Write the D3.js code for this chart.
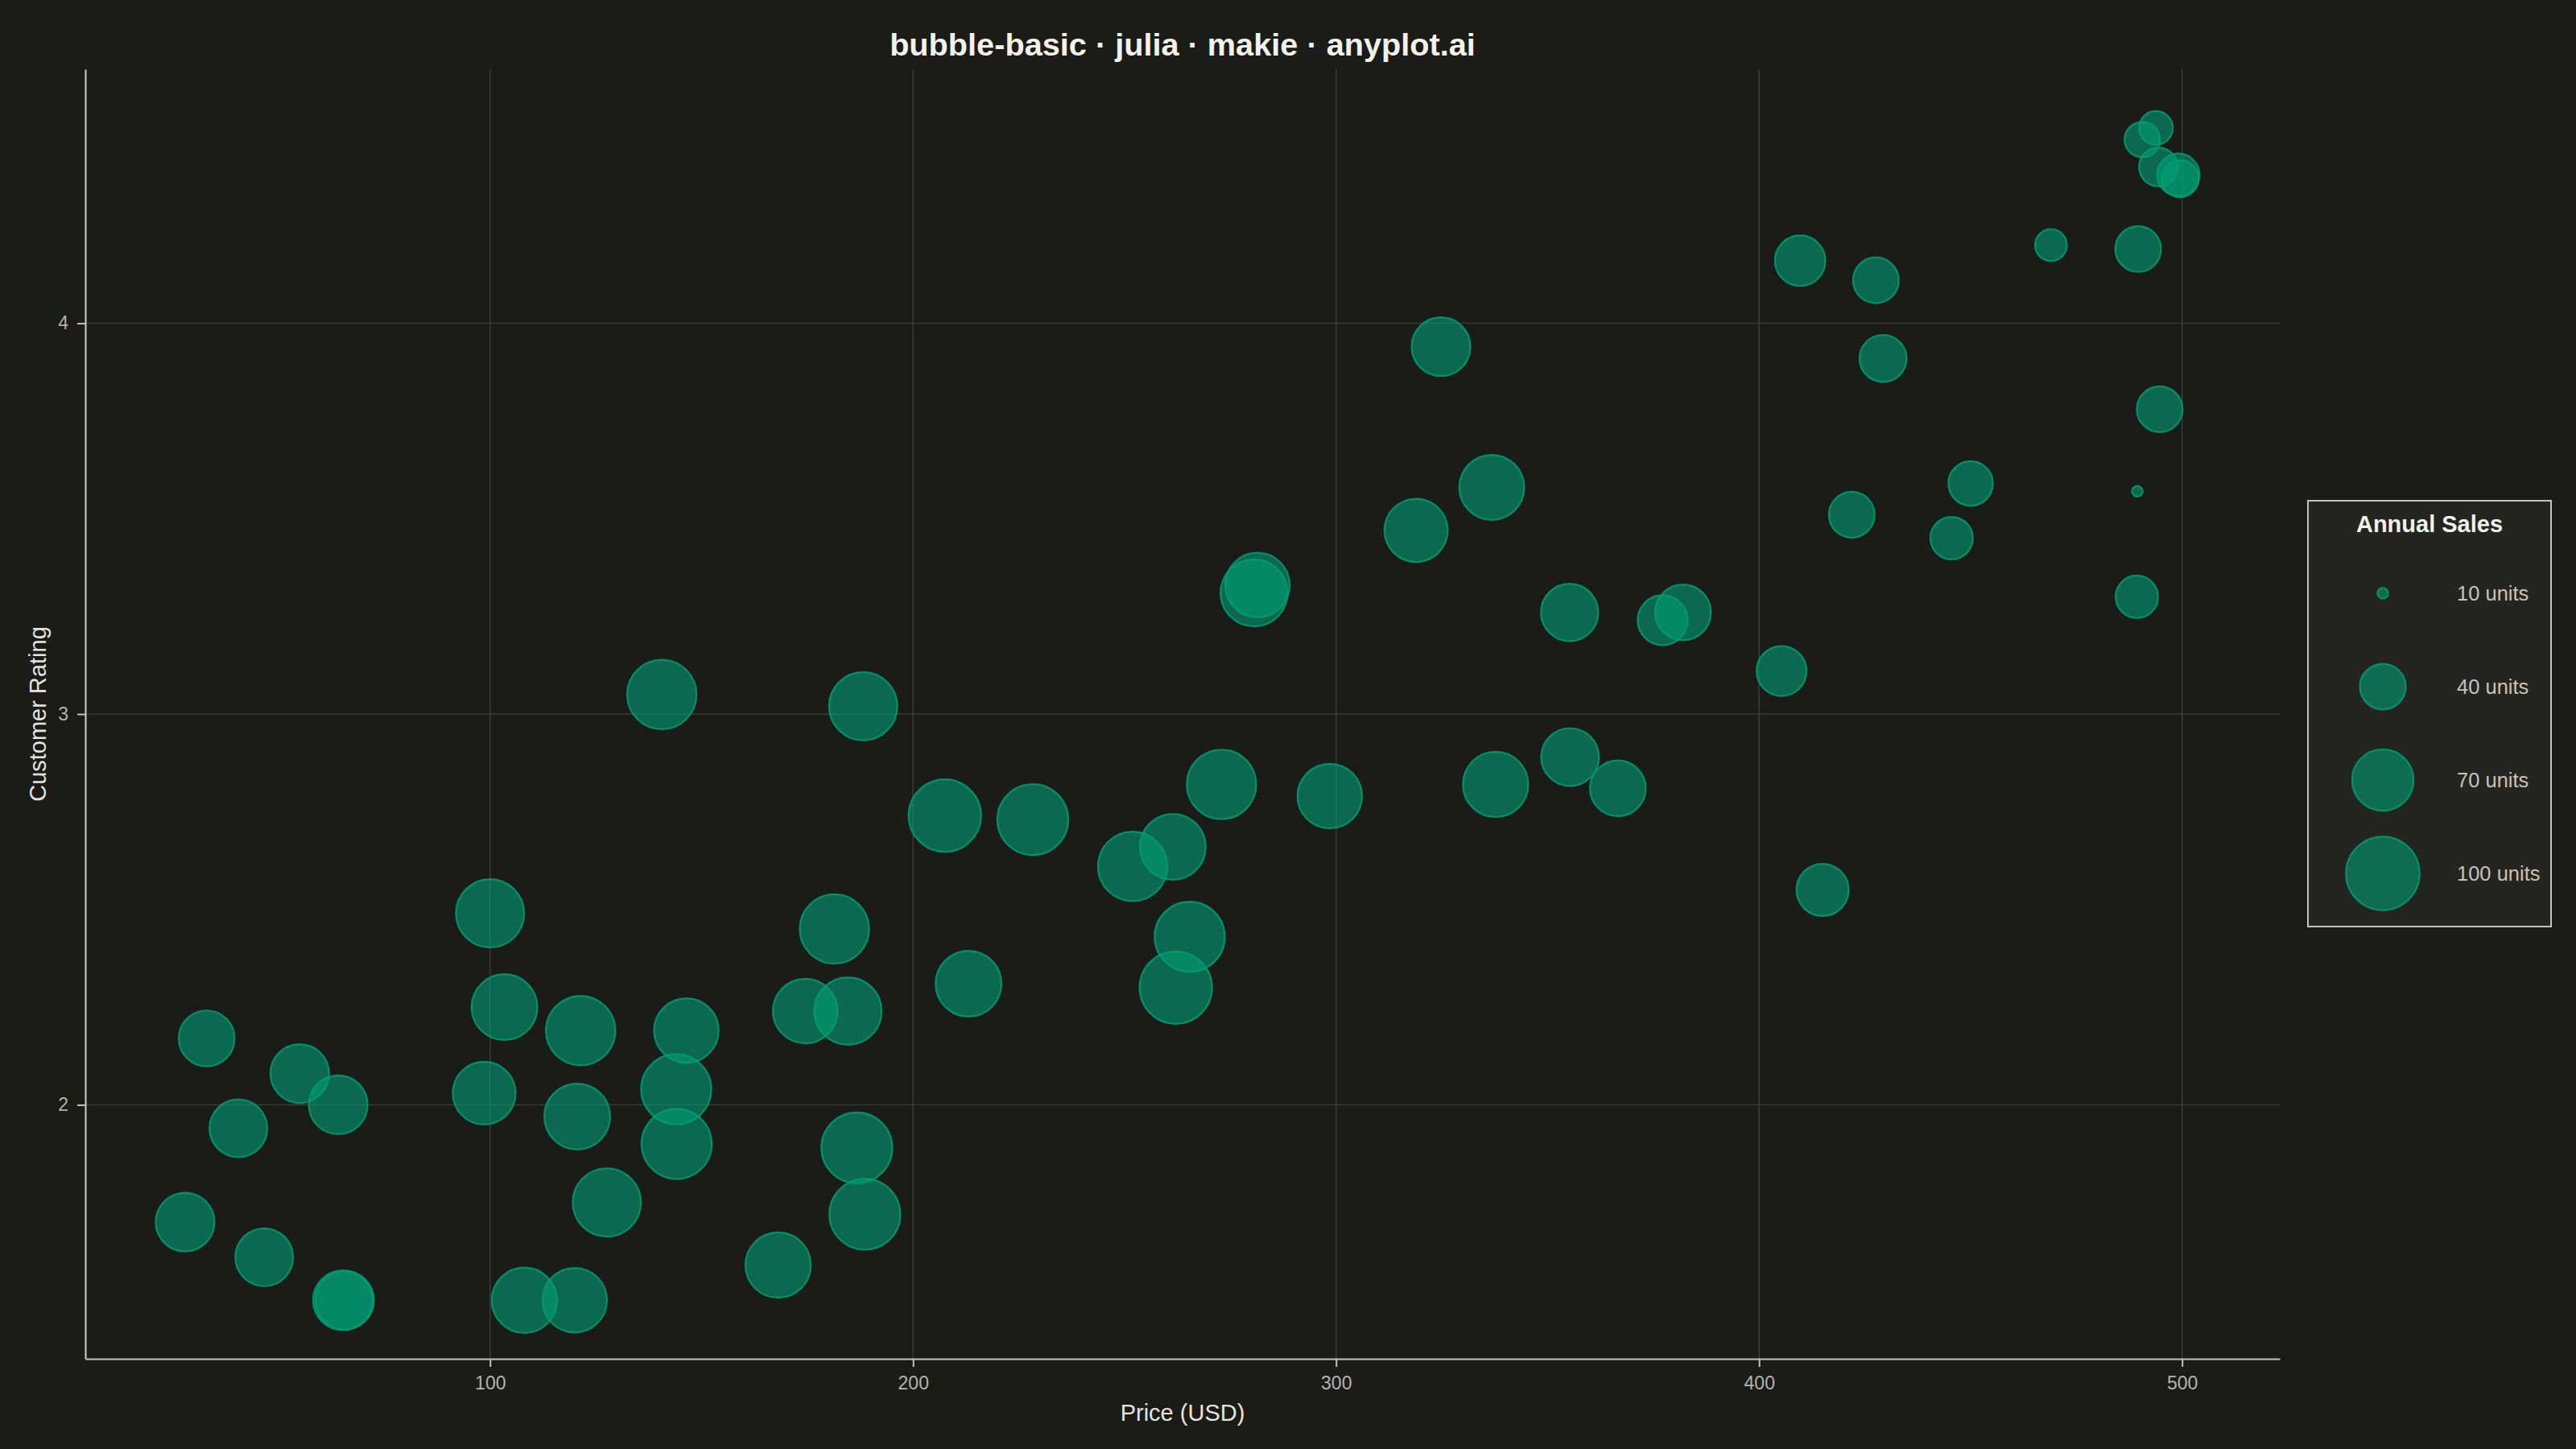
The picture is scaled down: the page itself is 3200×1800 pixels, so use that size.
<!doctype html>
<html>
<head>
	<meta charset="UTF-8">
	<title>bubble-basic</title>
	<script src="https://d3js.org/d3.v7.min.js"></script>
	<style>
		body { margin: 0; background: #1b1b18; }
		text { font-family: "Liberation Sans", Arial, Helvetica, sans-serif; }
	</style>
</head>
<body>
	<script>

		// data: price, rating, annual sales for each product
		var price = [140.6, 188.2, 100.0, 181.4, 103.4, 121.4, 146.4, 174.5, 184.6, 33.0,
			55.0, 64.1, 40.5, 98.6, 120.6, 144.0, 144.1, 127.6, 186.7, 188.6,
			27.9, 46.6, 65.2, 65.6, 108.1, 120.0, 168.1, 280.6, 281.4, 355.2,
			207.5, 228.3, 272.9, 298.5, 337.7, 355.3, 366.6, 251.9, 261.4, 265.4,
			262.1, 213.1, 493.8, 490.6, 494.4, 499.1, 499.5, 469.0, 489.6, 409.7,
			427.6, 429.3, 494.7, 450.0, 489.4, 421.9, 445.5, 489.3, 336.8, 382.0,
			377.2, 405.3, 415.0, 324.8, 318.9];
		var rating = [3.05, 3.02, 2.49, 2.45, 2.25, 2.19, 2.19, 2.24, 2.24, 2.17,
			2.08, 2.00, 1.94, 2.03, 1.97, 2.04, 1.90, 1.75, 1.89, 1.72,
			1.70, 1.61, 1.50, 1.50, 1.50, 1.50, 1.59, 3.31, 3.33, 3.26,
			2.74, 2.73, 2.82, 2.79, 2.82, 2.89, 2.81, 2.61, 2.66, 2.43,
			2.30, 2.31, 4.50, 4.47, 4.40, 4.38, 4.37, 4.20, 4.19, 4.16,
			4.11, 3.91, 3.78, 3.59, 3.57, 3.51, 3.45, 3.30, 3.58, 3.26,
			3.24, 3.11, 2.55, 3.94, 3.47];
		var sales = [89, 86, 86, 89, 80, 89, 77, 77, 84, 58,
			64, 64, 62, 73, 80, 91, 91, 86, 93, 93,
			64, 62, 66, 64, 79, 77, 79, 83, 77, 61,
			97, 93, 89, 77, 79, 62, 58, 89, 80, 91,
			97, 80, 24, 26, 30, 35, 28, 22, 40, 48,
			40, 42, 40, 38, 10, 40, 35, 35, 78, 58,
			47, 47, 51, 64, 74];

		var xTicks = [100, 200, 300, 400, 500];
		var yTicks = [2, 3, 4];
		var legendSales = [10, 40, 70, 100];

		var W = 3200, H = 1800;
		var plot = {left: 106, right: 2832, top: 86, bottom: 1688};

		var bubbleFill = "#009E73";

		var svg = d3.select("body")
			.append("svg")
				.attr("width", W)
				.attr("height", H);

		svg.append("rect")
			.attr("width", W)
			.attr("height", H)
			.attr("fill", "#1b1b18");

		// axis limits: data extent plus 5% each side
		function padded(values) {
			var ext = d3.extent(values);
			var pad = (ext[1] - ext[0]) * 0.05;
			return [ext[0] - pad, ext[1] + pad];
		}

		var x = d3.scaleLinear().domain(padded(price)).range([plot.left, plot.right]);
		var y = d3.scaleLinear().domain(padded(rating)).range([plot.bottom, plot.top]);

		// bubble radius: area grows with sales above a small floor
		var salesFloor = 9.8;
		var rScale = d3.scaleSqrt().domain([0, 100 - salesFloor]).range([5.75, 46.7]);
		function radius(s) { return rScale(s - salesFloor); }

		// grid
		svg.append("g")
			.selectAll("line")
			.data(xTicks)
			.join("line")
				.attr("x1", function(d) { return x(d); })
				.attr("x2", function(d) { return x(d); })
				.attr("y1", plot.top)
				.attr("y2", plot.bottom)
				.attr("stroke", "#3b3b37")
				.attr("stroke-width", 1.5);

		svg.append("g")
			.selectAll("line")
			.data(yTicks)
			.join("line")
				.attr("x1", plot.left)
				.attr("x2", plot.right)
				.attr("y1", function(d) { return y(d); })
				.attr("y2", function(d) { return y(d); })
				.attr("stroke", "#3b3b37")
				.attr("stroke-width", 1.5);

		// bubbles
		var points = d3.range(price.length).map(function(i) {
			return {p: price[i], r: rating[i], s: sales[i]};
		});

		svg.append("g")
			.selectAll("circle")
			.data(points)
			.join("circle")
				.attr("cx", function(d) { return x(d.p); })
				.attr("cy", function(d) { return y(d.r); })
				.attr("r", function(d) { return radius(d.s) - 1; })
				.attr("fill", bubbleFill)
				.attr("fill-opacity", 0.6)
				.attr("stroke", bubbleFill)
				.attr("stroke-opacity", 0.85)
				.attr("stroke-width", 2.2);

		// axes
		var xAxis = svg.append("g")
			.attr("transform", "translate(0," + plot.bottom + ")")
			.call(d3.axisBottom(x).tickValues(xTicks).tickSize(10).tickSizeOuter(0).tickPadding(12));

		var yAxis = svg.append("g")
			.attr("transform", "translate(" + plot.left + ",0)")
			.call(d3.axisLeft(y).tickValues(yTicks).tickFormat(d3.format("d")).tickSize(10).tickSizeOuter(0).tickPadding(11));

		[xAxis, yAxis].forEach(function(a) {
			a.select(".domain").attr("stroke", "#c4c4bc").attr("stroke-width", 2.2);
			a.selectAll(".tick line").attr("stroke", "#c4c4bc").attr("stroke-width", 2);
			a.selectAll(".tick text")
				.attr("fill", "#b4b4ac")
				.style("font-size", "23px")
				.style("font-family", "Liberation Sans, Arial, sans-serif");
		});

		// axis labels
		svg.append("text")
			.attr("x", (plot.left + plot.right) / 2)
			.attr("y", 1765)
			.attr("text-anchor", "middle")
			.attr("fill", "#e4e4dc")
			.style("font-size", "29px")
			.text("Price (USD)");

		svg.append("text")
			.attr("transform", "translate(57," + ((plot.top + plot.bottom) / 2) + ") rotate(-90)")
			.attr("text-anchor", "middle")
			.attr("fill", "#e4e4dc")
			.style("font-size", "29px")
			.text("Customer Rating");

		// title
		svg.append("text")
			.attr("x", (plot.left + plot.right) / 2)
			.attr("y", 69)
			.attr("text-anchor", "middle")
			.attr("fill", "#f2f1ea")
			.style("font-size", "39.7px")
			.style("font-weight", "bold")
			.text("bubble-basic · julia · makie · anyplot.ai");

		// size legend
		var legend = svg.append("g");

		legend.append("rect")
			.attr("x", 2867)
			.attr("y", 622)
			.attr("width", 302)
			.attr("height", 529)
			.attr("fill", "#242420")
			.attr("stroke", "#c4c4bc")
			.attr("stroke-width", 2);

		legend.append("text")
			.attr("x", 3018)
			.attr("y", 661)
			.attr("text-anchor", "middle")
			.attr("fill", "#f2f1ea")
			.style("font-size", "29px")
			.style("font-weight", "bold")
			.text("Annual Sales");

		var rowY = d3.scalePoint().domain(legendSales).range([737, 1085]);

		legend.selectAll("circle")
			.data(legendSales)
			.join("circle")
				.attr("cx", 2960)
				.attr("cy", function(d) { return rowY(d); })
				.attr("r", function(d) { return radius(d) - 1; })
				.attr("fill", bubbleFill)
				.attr("fill-opacity", 0.6)
				.attr("stroke", bubbleFill)
				.attr("stroke-opacity", 0.85)
				.attr("stroke-width", 2.2);

		legend.selectAll("text.lab")
			.data(legendSales)
			.join("text")
				.attr("class", "lab")
				.attr("x", 3052)
				.attr("y", function(d) { return rowY(d); })
				.attr("dy", "0.36em")
				.attr("fill", "#c4c4bc")
				.style("font-size", "25.5px")
				.text(function(d) { return d + " units"; });

	</script>
</body>
</html>
